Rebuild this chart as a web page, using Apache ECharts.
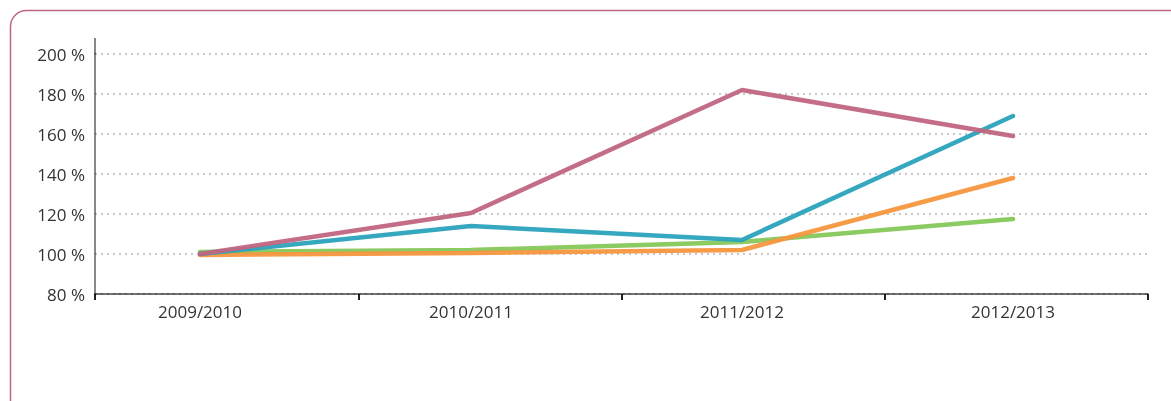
<!DOCTYPE html>
<html><head><meta charset="utf-8">
<script src="https://cdn.jsdelivr.net/npm/echarts@6/dist/echarts.min.js"></script>
<style>html,body{margin:0;padding:0;background:#fff}#c{width:1171px;height:401px}
#c svg path{mix-blend-mode:multiply}</style>
</head><body><div id="c"></div>
<script>
const categories = ['2009/2010', '2010/2011', '2011/2012', '2012/2013'];
const pinkSeries = [100, 120.5, 182, 159];
const blueSeries = [100, 114, 107, 169];
const orangeSeries = [99.5, 100.5, 102, 138];
const greenSeries = [101, 102, 106, 117.5];
const yTicks = { min: 80, max: 200, interval: 20 };

const chart = echarts.init(document.getElementById('c'), null, { renderer: 'svg' });
const font = '"Open Sans", sans-serif';
function line(name, data, color) {
  return { name, type: 'line', data, symbol: 'none', smooth: false, xAxisIndex: 1, yAxisIndex: 1,
    lineStyle: { color, width: 4.5, cap: 'round', opacity: 0.95 }, itemStyle: { color } };
}
chart.setOption({
  animation: false,
  grid: [
    { left: 95, right: 23, top: 54, bottom: 107 },
    { left: 200, right: 158, top: 54, bottom: 107 }
  ],
  xAxis: [
    {
      type: 'category', gridIndex: 0, data: categories, boundaryGap: true,
      axisLine: { lineStyle: { color: '#444', width: 1.5 } },
      axisTick: { show: true, length: 6, lineStyle: { color: '#222', width: 2 } },
      axisLabel: { show: false }
    },
    {
      type: 'category', gridIndex: 1, data: categories, boundaryGap: false,
      axisLine: { show: false }, axisTick: { show: false },
      axisLabel: { color: '#333', fontSize: 17, fontFamily: font, margin: 9 }
    }
  ],
  yAxis: [
    {
      type: 'value', gridIndex: 0, min: yTicks.min, max: yTicks.max, interval: yTicks.interval,
      axisLine: { show: true, lineStyle: { color: '#888', width: 2 } },
      axisTick: { show: false },
      axisLabel: { color: '#333', fontSize: 17, fontFamily: font, margin: 10, formatter: v => v + ' %' },
      splitLine: { show: true, lineStyle: { color: '#c8c8c8', type: [2, 4], width: 2 } }
    },
    {
      type: 'value', gridIndex: 1, min: yTicks.min, max: yTicks.max, interval: yTicks.interval,
      show: false, splitLine: { show: false }
    }
  ],
  graphic: [
    { type: 'rect', shape: { x: 10.5, y: 10.5, width: 1200, height: 430, r: 16 },
      style: { fill: 'none', stroke: '#c0667f', lineWidth: 1.5 }, silent: true },
    { type: 'line', shape: { x1: 95, y1: 38, x2: 95, y2: 54 },
      style: { stroke: '#888', lineWidth: 2 }, silent: true }
  ],
  series: [
    line('green', greenSeries, '#86c75a'),
    line('orange', orangeSeries, '#f5963e'),
    line('blue', blueSeries, '#2aa3bd'),
    line('pink', pinkSeries, '#c0667f')
  ]
});
</script></body></html>
